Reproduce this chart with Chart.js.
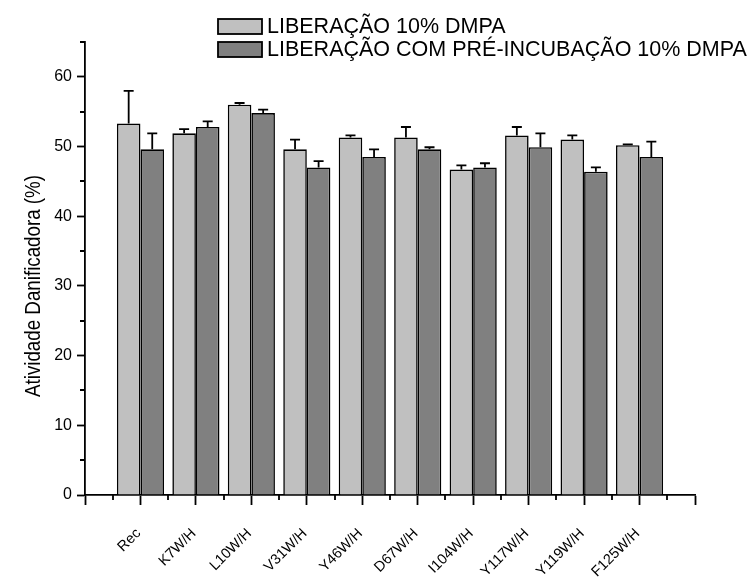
<!DOCTYPE html>
<html>
<head>
<meta charset="utf-8">
<script src="https://cdn.jsdelivr.net/npm/chart.js@4/dist/chart.umd.min.js"></script>
<style>
  html, body { margin: 0; padding: 0; background: #fff; }
  #wrap { width: 751px; height: 579px; }
</style>
</head>
<body>
<div id="wrap"><canvas id="c" width="751" height="579"></canvas></div>
<script>
// Mutants tested (first and last entries are blank axis padding slots)
const categories = ['', 'Rec', 'K7W/H', 'L10W/H', 'V31W/H', 'Y46W/H', 'D67W/H', 'I104W/H', 'Y117W/H', 'Y119W/H', 'F125W/H', ''];

// Damaging activity (%) – release with 10% DMPA
const liberacao    = [null, 53.3, 51.9, 56.0, 49.6, 51.3, 51.3, 46.7, 51.6, 51.0, 50.2, null];
const liberacaoErr = [null, 4.7, 0.6, 0.25, 1.4, 0.3, 1.5, 0.6, 1.2, 0.6, 0.1, null];

// Damaging activity (%) – release with pre-incubation, 10% DMPA
const preIncubacao    = [null, 49.6, 52.8, 54.8, 47.0, 48.5, 49.6, 47.0, 49.9, 46.4, 48.5, null];
const preIncubacaoErr = [null, 2.3, 0.8, 0.5, 0.9, 1.1, 0.3, 0.6, 2.0, 0.6, 2.2, null];

const seriesNames = ['LIBERAÇÃO 10% DMPA', 'LIBERAÇÃO COM PRÉ-INCUBAÇÃO 10% DMPA'];
const yTitle = 'Atividade Danificadora (%)';

const FONT = '"Liberation Sans", Arial, Helvetica, sans-serif';
const AXIS_W = 1.8;

// Upward error bars with caps
const errorBars = {
  id: 'errorBars',
  afterDatasetsDraw(chart) {
    const ctx = chart.ctx;
    const y = chart.scales.y;
    ctx.save();
    ctx.strokeStyle = '#000';
    ctx.lineWidth = 1.8;
    chart.data.datasets.forEach((ds, di) => {
      const meta = chart.getDatasetMeta(di);
      meta.data.forEach((bar, i) => {
        const v = ds.data[i], e = ds.errors[i];
        if (v == null || e == null) return;
        const y0 = y.getPixelForValue(v);
        const y1 = y.getPixelForValue(v + e);
        ctx.beginPath();
        ctx.moveTo(bar.x, y0);
        ctx.lineTo(bar.x, y1);
        ctx.moveTo(bar.x - 5, y1);
        ctx.lineTo(bar.x + 5, y1);
        ctx.stroke();
      });
    });
    ctx.restore();
  }
};

// Short minor ticks on both axes
const minorTicks = {
  id: 'minorTicks',
  afterDraw(chart) {
    const ctx = chart.ctx;
    const x = chart.scales.x, y = chart.scales.y;
    const area = chart.chartArea;
    ctx.save();
    ctx.strokeStyle = '#000';
    ctx.lineWidth = AXIS_W;
    ctx.beginPath();
    for (let i = 0; i < categories.length - 1; i++) {
      const px = Math.round(x.getPixelForValue(i + 0.5));
      ctx.moveTo(px, area.bottom);
      ctx.lineTo(px, area.bottom + 5);
    }
    for (let v = 5; v <= y.max; v += 10) {
      const py = Math.round(y.getPixelForValue(v));
      ctx.moveTo(area.left, py);
      ctx.lineTo(area.left - 5, py);
    }
    ctx.stroke();
    ctx.restore();
  }
};

// Two-line legend in the top area and the rotated y-axis title
const boxLegend = {
  id: 'boxLegend',
  afterDraw(chart) {
    const ctx = chart.ctx;
    ctx.save();
    ctx.font = '21.5px ' + FONT;
    ctx.textBaseline = 'middle';
    ctx.textAlign = 'left';
    chart.data.datasets.forEach((ds, i) => {
      const top = 19 + i * 23;
      ctx.fillStyle = ds.backgroundColor;
      ctx.fillRect(218, top, 44, 15);
      ctx.lineWidth = 1.8;
      ctx.strokeStyle = '#000';
      ctx.strokeRect(218, top, 44, 15);
      ctx.fillStyle = '#000';
      ctx.fillText(ds.label, 267, top + 8);
    });
    ctx.restore();

    // y-axis title, slightly condensed along its length
    ctx.save();
    ctx.font = '22px ' + FONT;
    ctx.fillStyle = '#000';
    ctx.textAlign = 'center';
    ctx.textBaseline = 'middle';
    const w = ctx.measureText(yTitle).width;
    ctx.translate(34, 286);
    ctx.rotate(-Math.PI / 2);
    ctx.scale(222 / w, 1);
    ctx.fillText(yTitle, 0, 0);
    ctx.restore();
  }
};

new Chart(document.getElementById('c'), {
  type: 'bar',
  data: {
    labels: categories,
    datasets: [
      { label: seriesNames[0], data: liberacao, errors: liberacaoErr,
        backgroundColor: '#c0c0c0', borderColor: '#000', borderWidth: 1.6, borderSkipped: 'bottom' },
      { label: seriesNames[1], data: preIncubacao, errors: preIncubacaoErr,
        backgroundColor: '#808080', borderColor: '#000', borderWidth: 1.6, borderSkipped: 'bottom' }
    ]
  },
  options: {
    responsive: false,
    animation: false,
    devicePixelRatio: 1,
    layout: { padding: { top: 42, right: 56, left: 0, bottom: 0 } },
    datasets: { bar: { categoryPercentage: 0.85, barPercentage: 1.0 } },
    plugins: { legend: { display: false }, tooltip: { enabled: false } },
    scales: {
      x: {
        type: 'category',
        offset: false,
        grid: { display: true, offset: false, drawOnChartArea: false, tickLength: 10, tickColor: '#000', tickWidth: AXIS_W },
        border: { display: true, color: '#000', width: AXIS_W },
        ticks: {
          autoSkip: false, minRotation: 45, maxRotation: 45, padding: 20, labelOffset: -2,
          color: '#000', font: { family: FONT, size: 14.5 }
        },
        afterFit(s) { s.height = 84; }
      },
      y: {
        min: 0, max: 65,
        grid: {
          display: true, drawOnChartArea: false, tickLength: 8, tickWidth: AXIS_W,
          tickColor: c => (c.tick && c.tick.value % 10 === 0) ? '#000' : 'rgba(0,0,0,0)'
        },
        border: { display: true, color: '#000', width: AXIS_W },
        ticks: {
          stepSize: 5, padding: 5, color: '#000', font: { family: FONT, size: 16 },
          callback: v => (v % 10 === 0 ? String(v) : '')
        },
        title: { display: false },
        afterFit(s) { s.width = 85; }
      }
    }
  },
  plugins: [errorBars, minorTicks, boxLegend]
});
</script>
</body>
</html>
